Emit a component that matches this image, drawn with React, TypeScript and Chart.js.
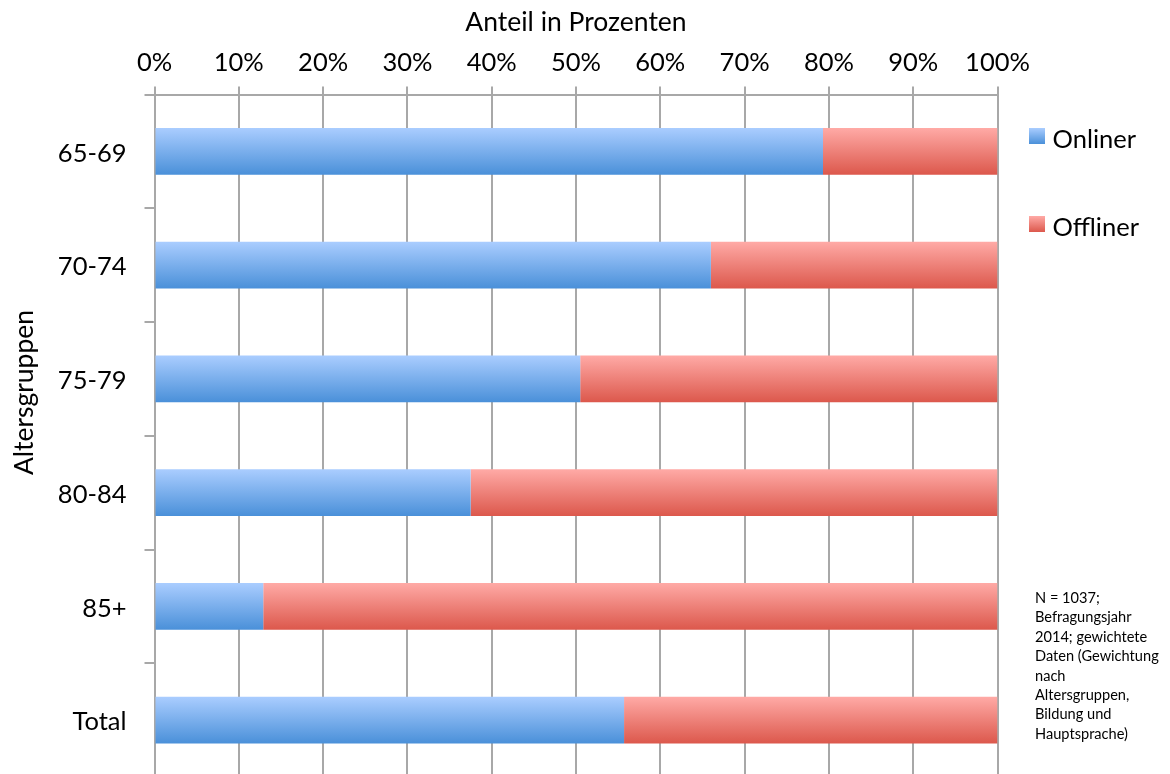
import React, { useEffect, useRef } from "react";
import { Chart, registerables } from "chart.js";

Chart.register(...registerables);

// Age groups (y axis) and the share of each group that is online / offline
const categories = ["65-69", "70-74", "75-79", "80-84", "85+", "Total"];
const onliner = [79.3, 66.0, 50.5, 37.5, 12.9, 55.7];
const offliner = [20.7, 34.0, 49.5, 62.5, 87.1, 44.3];
const seriesNames = ["Onliner", "Offliner"];

const xTickLabels = ["0%", "10%", "20%", "30%", "40%", "50%", "60%", "70%", "80%", "90%", "100%"];
const xTitle = "Anteil in Prozenten";
const yTitle = "Altersgruppen";
const noteLines = [
  "N = 1037;",
  "Befragungsjahr",
  "2014; gewichtete",
  "Daten (Gewichtung",
  "nach",
  "Altersgruppen,",
  "Bildung und",
  "Hauptsprache)",
];

const FONT = "Lato, 'Open Sans', sans-serif";
const GRID = "#a8a8a8";
const BAR_FRACTION = 0.41;

type RGB = [number, number, number];
const BLUE_TOP: RGB = [170, 205, 255];
const BLUE_BOTTOM: RGB = [74, 144, 217];
const RED_TOP: RGB = [255, 170, 166];
const RED_BOTTOM: RGB = [220, 88, 76];

const rgb = (c: RGB) => `rgb(${c[0]},${c[1]},${c[2]})`;

function verticalGradient(ctx: CanvasRenderingContext2D, y0: number, y1: number, top: RGB, bottom: RGB) {
  const g = ctx.createLinearGradient(0, y0, 0, y1);
  g.addColorStop(0, rgb(top));
  g.addColorStop(1, rgb(bottom));
  return g;
}

// Each bar gets its own top-to-bottom gradient, sized from the category scale
function barFill(top: RGB, bottom: RGB) {
  return (context: any) => {
    const chart = context.chart;
    const yScale = chart.scales && chart.scales.y;
    if (!yScale || context.dataIndex === undefined || !chart.chartArea) {
      return rgb(bottom);
    }
    const center = yScale.getPixelForValue(context.dataIndex);
    const band = yScale.height / categories.length;
    const h = band * BAR_FRACTION;
    return verticalGradient(chart.ctx, center - h / 2, center + h / 2, top, bottom);
  };
}

// Legend, rotated y-axis title and the sample note on the right
const sidePlugin = {
  id: "sideTexts",
  afterDraw(chart: any) {
    const { ctx, chartArea } = chart;
    ctx.save();
    ctx.fillStyle = "#000";

    const colors: [RGB, RGB][] = [
      [BLUE_TOP, BLUE_BOTTOM],
      [RED_TOP, RED_BOTTOM],
    ];
    const boxX = chartArea.right + 31.5;
    chart.data.datasets.forEach((ds: any, i: number) => {
      const boxTop = chartArea.top + 33.5 + i * 88;
      ctx.fillStyle = verticalGradient(ctx, boxTop, boxTop + 16, colors[i][0], colors[i][1]);
      ctx.fillRect(boxX, boxTop, 16, 16);
      ctx.fillStyle = "#000";
      ctx.font = `25.5px ${FONT}`;
      ctx.textAlign = "left";
      ctx.textBaseline = "middle";
      ctx.fillText(ds.label, boxX + 23.5, boxTop + 11.5);
    });

    ctx.font = `14.6px ${FONT}`;
    ctx.textAlign = "left";
    ctx.textBaseline = "alphabetic";
    noteLines.forEach((line, i) => {
      ctx.fillText(line, chartArea.right + 37.5, chartArea.top + 508.5 + i * 19.4);
    });

    ctx.translate(24, chartArea.top + 298);
    ctx.rotate(-Math.PI / 2);
    ctx.font = `26.5px ${FONT}`;
    ctx.textAlign = "center";
    ctx.textBaseline = "middle";
    ctx.fillText(yTitle, 0, 0);
    ctx.restore();
  },
};

export default function App() {
  const canvasRef = useRef<HTMLCanvasElement | null>(null);

  useEffect(() => {
    if (!canvasRef.current) return;
    const chart = new Chart(canvasRef.current, {
      type: "bar",
      data: {
        labels: categories,
        datasets: [
          {
            label: seriesNames[0],
            data: onliner,
            backgroundColor: barFill(BLUE_TOP, BLUE_BOTTOM),
            borderWidth: 0,
            categoryPercentage: 1,
            barPercentage: BAR_FRACTION,
          },
          {
            label: seriesNames[1],
            data: offliner,
            backgroundColor: barFill(RED_TOP, RED_BOTTOM),
            borderWidth: 0,
            categoryPercentage: 1,
            barPercentage: BAR_FRACTION,
          },
        ],
      },
      options: {
        indexAxis: "y",
        responsive: false,
        animation: false,
        layout: { padding: { left: 0, top: 0, right: 172.5, bottom: 0 } },
        plugins: {
          legend: { display: false },
          tooltip: { enabled: false },
        },
        scales: {
          x: {
            position: "top",
            stacked: true,
            min: 0,
            max: 100,
            ticks: {
              stepSize: 10,
              padding: 8,
              color: "#000",
              font: { family: FONT, size: 25.5 },
              callback: (_v: any, i: number) => xTickLabels[i],
            },
            grid: {
              color: GRID,
              lineWidth: 2,
              drawTicks: true,
              tickLength: 8,
            },
            border: { display: true, color: GRID, width: 2 },
            title: {
              display: true,
              text: xTitle,
              color: "#000",
              font: { family: FONT, size: 26.5 },
              padding: { top: 7, bottom: 0 },
            },
            afterFit: (scale: any) => {
              scale.height = 94.5;
              scale.paddingLeft = 0;
              scale.paddingRight = 0;
            },
          },
          y: {
            stacked: true,
            ticks: {
              padding: 18,
              labelOffset: 2,
              color: "#000",
              font: { family: FONT, size: 25.5 },
            },
            grid: {
              offset: true,
              drawOnChartArea: false,
              drawTicks: true,
              tickLength: 10,
              color: GRID,
              lineWidth: 2,
            },
            border: { display: true, color: GRID, width: 2 },
            afterFit: (scale: any) => {
              scale.width = 154.5;
              scale.paddingTop = 0;
              scale.paddingBottom = 0;
            },
          },
        },
      },
      plugins: [sidePlugin],
    });
    return () => chart.destroy();
  }, []);

  return (
    <div
      style={{
        position: "fixed",
        left: 0,
        top: 0,
        width: 1170,
        height: 774,
        overflow: "hidden",
        background: "#fff",
      }}
    >
      <canvas ref={canvasRef} width={1170} height={777} style={{ display: "block" }} />
    </div>
  );
}
